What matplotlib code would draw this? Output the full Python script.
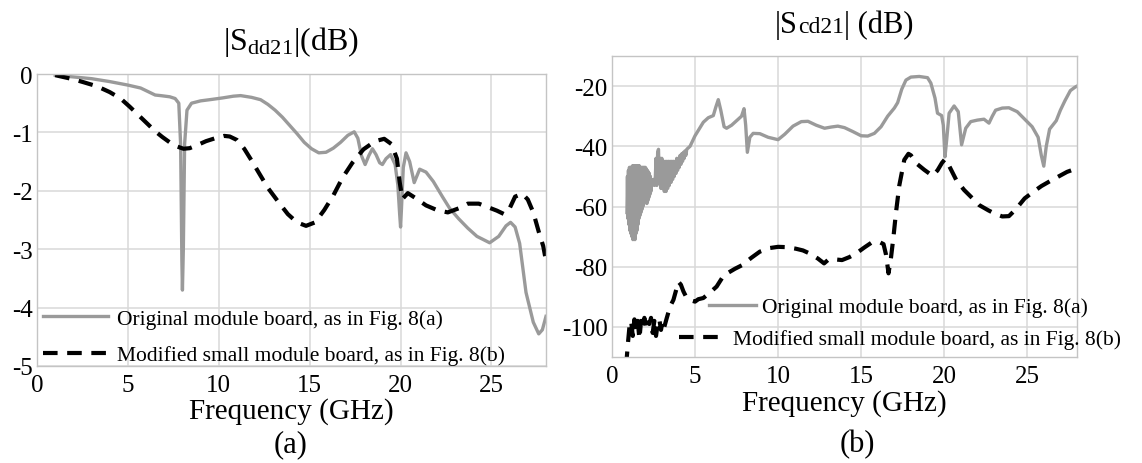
import matplotlib
matplotlib.use("Agg")
import matplotlib.pyplot as plt
from matplotlib.offsetbox import TextArea, HPacker, AnchoredOffsetbox

plt.rcParams['font.family'] = ['Liberation Serif', 'DejaVu Serif']
plt.rcParams['mathtext.fontset'] = 'custom'
plt.rcParams['mathtext.rm'] = 'Liberation Serif'
plt.rcParams['mathtext.default'] = 'rm'
plt.rcParams['axes.unicode_minus'] = False

# ---------------- |Sdd21| data (dB) ----------------
sdd_orig_f = [1.0, 2.0, 3.0, 4.0, 5.0, 5.7, 6.1, 6.5, 6.8, 7.3, 7.6, 7.8, 7.9, 7.97, 8.0,
              8.05, 8.12, 8.25, 8.5, 9.0, 9.5, 10.2, 10.8, 11.2, 11.8, 12.3, 12.7, 13.1,
              13.5, 13.9, 14.3, 14.7, 15.1, 15.5, 15.9, 16.3, 16.7, 17.1, 17.45, 17.65,
              17.85, 18.05, 18.25, 18.45, 18.65, 18.85, 19.0, 19.2, 19.45, 19.7, 19.85,
              19.95, 20.0, 20.05, 20.15, 20.3, 20.5, 20.75, 21.05, 21.4, 21.8, 22.3, 22.7,
              23.2, 23.7, 24.2, 24.9, 25.4, 25.8, 26.05, 26.3, 26.55, 26.9, 27.3, 27.6,
              27.8, 28.0]
sdd_orig_v = [-0.02, -0.05, -0.08, -0.13, -0.19, -0.24, -0.30, -0.36, -0.37, -0.39, -0.42,
              -0.50, -1.2, -3.2, -3.7, -3.0, -1.2, -0.62, -0.50, -0.46, -0.44, -0.41, -0.38,
              -0.37, -0.40, -0.44, -0.52, -0.62, -0.74, -0.88, -1.02, -1.17, -1.28, -1.35,
              -1.34, -1.27, -1.17, -1.05, -0.99, -1.10, -1.40, -1.55, -1.40, -1.28, -1.38,
              -1.52, -1.55, -1.45, -1.38, -1.55, -1.90, -2.40, -2.62, -2.30, -1.60, -1.35,
              -1.50, -1.86, -1.63, -1.68, -1.84, -2.10, -2.30, -2.48, -2.64, -2.78, -2.89,
              -2.78, -2.60, -2.54, -2.62, -2.90, -3.74, -4.25, -4.45, -4.38, -4.15]

sdd_mod_f = [1.0, 2.0, 2.55, 3.3, 4.0, 4.6, 5.1, 5.6, 6.1, 6.5, 6.9, 7.3, 7.6, 8.06, 8.4,
             8.8, 9.3, 9.8, 10.3, 10.6, 11.0, 11.4, 11.8, 12.2, 12.7, 13.3, 13.8, 14.3,
             14.8, 15.3, 15.8, 16.3, 16.8, 17.35, 17.96, 18.6, 19.1, 19.5, 19.8, 19.95,
             20.1, 20.4, 20.8, 21.4, 22.0, 22.6, 23.2, 23.7, 24.3, 24.8, 25.3, 25.7, 26.0,
             26.3, 26.7, 27.0, 27.3, 27.6, 27.85, 28.0]
sdd_mod_v = [-0.02, -0.09, -0.14, -0.21, -0.31, -0.42, -0.56, -0.71, -0.86, -0.98, -1.08,
             -1.17, -1.23, -1.28, -1.27, -1.22, -1.15, -1.10, -1.06, -1.07, -1.13, -1.28,
             -1.48, -1.69, -1.95, -2.20, -2.40, -2.54, -2.60, -2.54, -2.33, -2.08, -1.78,
             -1.52, -1.29, -1.15, -1.11, -1.20, -1.45, -1.85, -2.14, -2.04, -2.12, -2.25,
             -2.33, -2.37, -2.30, -2.22, -2.22, -2.28, -2.34, -2.40, -2.30, -2.10, -2.05,
             -2.15, -2.37, -2.70, -2.95, -3.20]

# ---------------- |Scd21| data (dB) ----------------
scd_orig_f = [0.90, 0.93, 0.96, 0.99, 1.02, 1.05, 1.08, 1.11, 1.14, 1.17, 1.20, 1.23, 1.26,
              1.29, 1.32, 1.35, 1.38, 1.41, 1.44, 1.47, 1.50, 1.53, 1.56, 1.59, 1.62, 1.65,
              1.68, 1.71, 1.74, 1.77, 1.80, 1.83, 1.86, 1.89, 1.92, 1.95, 1.98, 2.01, 2.04,
              2.07, 2.10, 2.13, 2.16, 2.19, 2.22, 2.25, 2.28, 2.31, 2.34, 2.37, 2.40, 2.45,
              2.50, 2.55, 2.60, 2.65, 2.70, 2.75, 2.80, 2.85, 2.90, 2.95, 3.00, 3.05, 3.10,
              3.15, 3.20, 3.25, 3.30, 3.35, 3.40, 3.45, 3.50, 3.55, 3.60, 3.65, 3.70, 3.75,
              3.80, 3.85, 3.90, 3.95, 4.00, 4.05, 4.10, 4.15, 4.20, 4.25, 4.30, 4.35, 4.40,
              4.45, 4.50, 4.60, 4.70, 5.0, 5.5, 5.8, 6.1, 6.25, 6.4, 6.55, 6.75, 6.9, 7.2,
              7.5, 7.8, 7.95, 8.05, 8.15, 8.3, 8.5, 8.9, 9.4, 10.0, 10.4, 10.9, 11.4, 11.8,
              12.3, 12.8, 13.2, 13.6, 14.0, 14.5, 15.0, 15.4, 15.8, 16.2, 16.6, 17.0, 17.2,
              17.45, 17.7, 18.0, 18.5, 19.0, 19.2, 19.45, 19.6, 19.85, 19.95, 20.05, 20.15,
              20.3, 20.6, 20.85, 21.05, 21.3, 21.6, 22.0, 22.4, 22.7, 22.9, 23.1, 23.5, 23.9,
              24.4, 24.85, 25.3, 25.66, 25.85, 26.0, 26.15, 26.35, 26.75, 27.0, 27.27, 27.6,
              27.87, 28.0]
scd_orig_v = [-62, -50, -64, -48, -66, -47, -68, -47, -69, -47, -70, -46.5, -71, -46.5, -70,
              -46.5, -71, -46.5, -69, -46.5, -68, -46.5, -66, -46.5, -64, -46.5, -63, -47,
              -62, -47, -61, -47, -60, -47, -59, -47, -58, -47, -58, -47.5, -59, -48, -58,
              -48.5, -57, -49, -56, -50, -55, -51, -53, -52, -51, -53, -52, -44, -53, -42,
              -41, -52, -44, -54, -44, -54, -45, -55, -45, -55, -45, -54, -45, -53, -45, -52,
              -45, -51, -45, -50, -45, -49, -44, -48, -44, -47, -43, -46, -42.5, -45, -42,
              -44, -41.5, -43, -41, -40.5, -40, -36.5, -32, -30.5, -29.8, -27, -24.5, -28,
              -33.5, -34, -33, -31.5, -30, -27.5, -33, -42, -37, -35.7, -35.8, -37, -37.8,
              -36, -33.3, -31.8, -31.7, -33, -34, -33.6, -33.3, -33.8, -35.1, -36.5, -36.6,
              -35.7, -33.5, -30, -27.3, -25.5, -21, -18, -17, -16.8, -17.2, -19, -24, -29,
              -29.8, -33, -43.5, -38, -29, -26.6, -28.5, -39.5, -34, -31.8, -31.3, -31,
              -32.3, -30, -28, -27.3, -27.2, -28.5, -31, -33.5, -37, -43, -46.6, -40, -34.3,
              -31.5, -28, -24.9, -21.5, -20.4, -20.0]

scd_mod_f = [0.85, 0.95, 1.05, 1.15, 1.25, 1.35, 1.45, 1.55, 1.65, 1.75, 1.85, 1.95, 2.05,
             2.15, 2.25, 2.35, 2.45, 2.55, 2.65, 2.75, 2.85, 2.95, 3.05, 3.15, 3.3, 3.5,
             3.7, 3.85, 4.0, 4.15, 4.3, 4.5, 4.75, 5.0, 5.2, 5.5, 5.9, 6.3, 6.75, 7.0, 7.4,
             7.83, 8.4, 8.9, 9.5, 10.0, 10.5, 11.05, 11.5, 11.9, 12.4, 12.77, 13.0, 13.3,
             13.85, 14.3, 14.7, 15.2, 15.6, 16.1, 16.35, 16.5, 16.65, 16.8, 16.95, 17.1,
             17.3, 17.6, 17.85, 18.0, 18.4, 18.8, 19.3, 19.6, 19.87, 20.05, 20.3, 20.73,
             21.2, 21.6, 22.1, 22.67, 23.1, 23.5, 23.9, 24.3, 24.85, 25.4, 25.86, 26.4,
             26.9, 27.4, 27.9, 28.0]
scd_mod_v = [-113, -106, -100, -98, -103, -97.5, -101, -98, -104, -98, -100.5, -97, -101,
             -98.5, -99, -97, -102, -98, -103, -99, -97.5, -101, -98, -100, -97, -93.2,
             -91, -88, -85, -86, -88.2, -90.4, -91.2, -91.6, -90.8, -90.4, -88.6, -86.6,
             -82.7, -82, -80.7, -79.5, -77, -75, -73.8, -73.4, -73.5, -74, -74.6, -75.6,
             -77.3, -78.9, -77.8, -77.5, -77.8, -76.8, -75.6, -73.6, -72.1, -71.8, -72.5,
             -76, -82.2, -77, -70, -62, -53, -44.5, -42.5, -43, -46, -47.8, -49.8, -48,
             -45.5, -44.3, -46.5, -51.2, -54.5, -56.7, -59.5, -61.3, -62.5, -63.3, -63.2,
             -61, -57.3, -55, -53.2, -51.5, -50, -48.5, -47.5, -47.3]

freq_ticks = [0, 5, 10, 15, 20, 25]
sdd_ticks = [0, -1, -2, -3, -4, -5]
scd_ticks = [-20, -40, -60, -80, -100]
label_orig = 'Original module board, as in Fig. 8(a)'
label_mod = 'Modified small module board, as in Fig. 8(b)'

GRAY = '#9a9a9a'
GRID = '#d8d8d8'
W, H = 1142, 464

fig = plt.figure(figsize=(W / 100, H / 100), dpi=100)
ax1 = fig.add_axes([37 / W, 1 - 367 / H, (546 - 37) / W, (367 - 75) / H])
ax2 = fig.add_axes([612 / W, 1 - 358 / H, (1077 - 612) / W, (358 - 57) / H])

dash = (0, (3.5, 2.3))
l1, = ax1.plot(sdd_orig_f, sdd_orig_v, color=GRAY, lw=2.4, solid_joinstyle='round')
l2, = ax1.plot(sdd_mod_f, sdd_mod_v, color='black', lw=3.0, linestyle=dash)
r1, = ax2.plot(scd_orig_f, scd_orig_v, color=GRAY, lw=2.4, solid_joinstyle='round')
r2, = ax2.plot(scd_mod_f, scd_mod_v, color='black', lw=3.0, linestyle=dash)

ax1.set_xlim(0, 28)
ax1.set_ylim(-5, 0)
ax1.set_yticks(sdd_ticks)
ax2.set_xlim(0, 28)
ax2.set_ylim(-110, -10)
ax2.set_yticks(scd_ticks)

for ax in (ax1, ax2):
    ax.set_xticks(freq_ticks)
    ax.grid(True, color=GRID, lw=1.1)
    ax.set_axisbelow(True)
    for s in ax.spines.values():
        s.set_color('#c4c4c4')
        s.set_linewidth(1.0)
    ax.tick_params(axis='both', length=0, labelsize=18)
    ax.tick_params(axis='x', pad=6)
    ax.tick_params(axis='y', pad=3)
    ax.set_xlabel('Frequency (GHz)', fontsize=21)
    ax.xaxis.label.set_va('center')

ax1.xaxis.set_label_coords(0.5, (367 - 412) / (367 - 75))
ax2.xaxis.set_label_coords(0.5, (358 - 404) / (358 - 57))

# legends
leg_kw = dict(frameon=False, fontsize=15.5, borderpad=0, borderaxespad=0,
              bbox_transform=fig.transFigure, loc='center left')
ax1.legend([l1, l2], [label_orig, label_mod], bbox_to_anchor=(43 / W, 1 - 338 / H),
           handlelength=3.0, handletextpad=0.45, labelspacing=0.75, **leg_kw)
lg_a = ax2.legend([r1], [label_orig], bbox_to_anchor=(709 / W, 1 - 308 / H),
                  handlelength=2.2, handletextpad=0.25, **leg_kw)
ax2.add_artist(lg_a)
ax2.legend([r2], [label_mod], bbox_to_anchor=(679 / W, 1 - 340 / H),
           handlelength=2.2, handletextpad=0.3, **leg_kw)

# titles
fig.text(291 / W, 1 - 42 / H, r'|$\mathrm{S}_{\mathrm{dd21}}$|(dB)', ha='center',
         va='center', fontsize=23)
parts = [TextArea('|S', textprops=dict(fontsize=22)),
         TextArea('cd21', textprops=dict(fontsize=17)),
         TextArea('| (dB)', textprops=dict(fontsize=22))]
title_box = HPacker(children=parts, align='baseline', pad=0, sep=0)
fig.add_artist(AnchoredOffsetbox(loc='center', child=title_box, pad=0, borderpad=0,
                                 frameon=False, bbox_to_anchor=(844 / W, 1 - 25 / H),
                                 bbox_transform=fig.transFigure))

fig.text(291 / W, 1 - 445 / H, '(a)', ha='center', va='center', fontsize=22)
fig.text(857 / W, 1 - 445 / H, '(b)', ha='center', va='center', fontsize=22)

fig.savefig('out.png', dpi=100)
